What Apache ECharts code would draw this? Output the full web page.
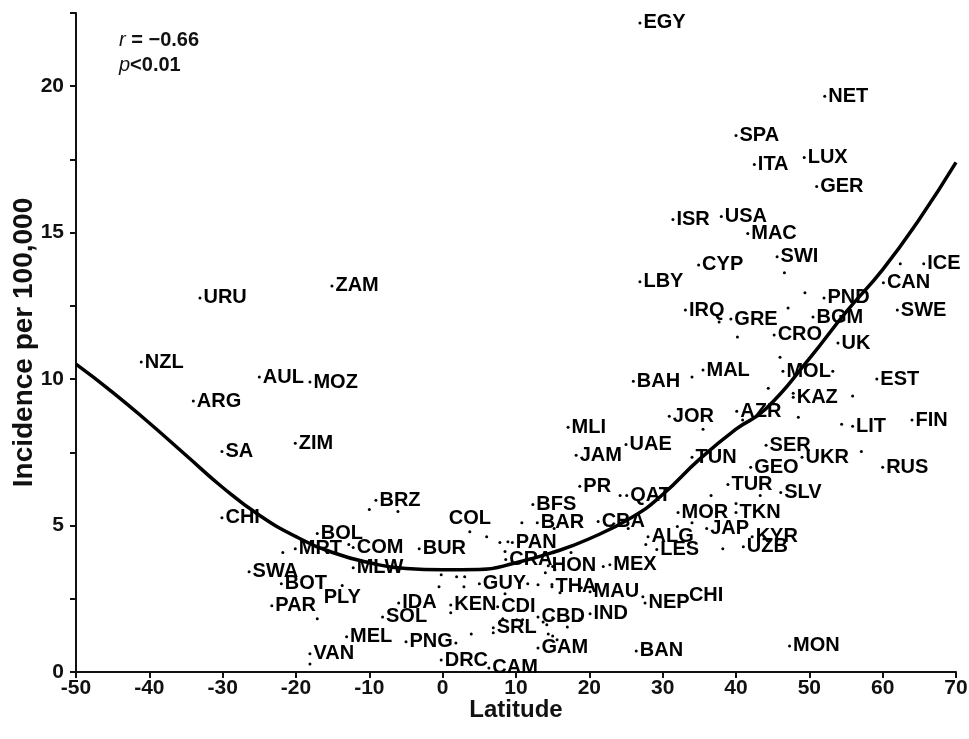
<!DOCTYPE html>
<html>
<head>
<meta charset="utf-8">
<style>html,body{margin:0;padding:0;background:#fff;}#c{width:969px;height:739px;}</style>
<script src="https://cdn.jsdelivr.net/npm/echarts@6/dist/echarts.min.js"></script>
</head>
<body>
<div id="c"></div>
<script>
// ---- Data ----
const countries = ['EGY','NET','SPA','ITA','LUX','GER','ISR','USA','MAC','SWI','CYP','LBY','IRQ','GRE','CRO','PND','BGM','UK','CAN','SWE','ICE','MOL','EST','KAZ','LIT','FIN','UKR','RUS','SER','GEO','TUR','SLV','TKN','MOR','JAP','KYR','UZB','ALG','LES','CBA','QAT','TUN','UAE','JAM','MLI','JOR','AZR','BAH','MAL','PR','BFS','BAR','COL','PAN','CRA','HON','MEX','THA','GUY','KEN','CDI','CBD','IND','MAU','SRL','DRC','CAM','GAM','BAN','MON','CHI','NEP','URU','ZAM','NZL','AUL','MOZ','ARG','SA','ZIM','CHI','BRZ','BOL','COM','MLW','BUR','MRT','SWA','BOT','PLY','PAR','VAN','MEL','SOL','IDA','PNG'];
const latitude = [26.9,52.1,40.0,42.5,49.3,51.0,31.4,38.0,41.6,45.6,34.9,26.9,33.1,39.3,45.2,52.0,50.5,53.9,60.1,62.0,65.6,46.4,59.2,47.8,55.9,64.0,49.0,60.0,44.1,42.0,38.9,46.1,40.0,32.1,36.0,42.2,41.0,28.0,29.2,21.2,25.1,34.0,25.0,18.2,17.1,30.9,40.1,26.0,35.5,18.7,12.3,12.9,3.7,9.5,8.6,14.4,22.8,14.9,5.0,1.1,7.5,13.0,20.1,20.1,6.9,-0.2,6.3,13.0,26.4,47.3,33.1,27.6,-33.1,-15.1,-41.1,-25.0,-18.1,-34.0,-30.1,-20.1,-30.1,-9.1,-17.1,-12.2,-12.2,-3.2,-20.1,-26.4,-22.0,-13.7,-23.3,-18.1,-13.1,-8.2,-6.0,-5.0];
const incidence = [22.16,19.66,18.32,17.33,17.57,16.58,15.45,15.55,14.97,14.18,13.9,13.32,12.36,12.05,11.51,12.77,12.12,11.23,13.29,12.36,13.94,10.27,10.0,9.38,8.39,8.6,7.33,6.99,7.74,6.99,6.4,6.13,5.45,5.45,4.9,4.62,4.28,4.62,4.18,5.14,6.03,7.33,7.77,7.4,8.36,8.73,8.9,9.93,10.31,6.34,5.72,5.1,4.79,4.42,3.84,3.63,3.66,2.91,3.01,2.29,2.23,1.88,1.99,2.74,1.51,0.41,0.14,0.82,0.72,0.89,2.6,2.36,12.77,13.18,10.58,10.07,9.9,9.25,7.53,7.81,5.27,5.86,4.73,4.25,3.56,4.21,4.21,3.42,3.01,2.95,2.26,0.62,1.2,1.88,2.36,1.03];

// unlabeled countries (dots only)
const otherLatitude = [46.6,37.7,40.2,47.1,49.4,62.4,46.0,53.2,55.9,48.5,54.4,57.1,43.3,36.6,34.0,32.0,38.2,27.7,25.3,35.5,40.9,44.4,34.0,24.2,10.8,15.2,6.0,7.8,8.9,8.5,15.0,15.3,14.0,21.9,11.6,13.0,14.9,18.9,16.0,27.3,1.9,3.0,-0.2,-0.5,2.9,8.5,8.2,10.1,10.9,13.7,14.2,15.0,17.0,17.1,18.7,14.4,15.0,15.6,3.9,1.8,-10.0,-6.1,-17.1,-18.1,-21.8,-12.8,17.5,40.0,47.8,1.1,6.9];
const otherIncidence = [13.63,11.95,11.44,12.43,12.95,13.94,10.75,10.27,9.42,8.7,8.46,7.53,6.03,6.03,5.1,4.97,4.21,4.35,4.9,8.29,8.6,9.69,10.07,6.03,5.1,4.9,4.62,4.42,4.45,4.11,3.6,3.49,3.39,3.6,3.01,2.98,2.99,2.88,2.71,2.57,3.25,3.25,3.32,2.91,2.91,2.67,1.82,1.78,1.78,1.71,1.61,1.85,1.54,1.82,1.82,1.3,1.23,1.1,1.3,0.99,5.55,5.48,1.82,0.27,4.08,4.35,4.08,5.75,9.52,2.02,1.34];

// fitted curve
const fitLatitude  = [-50,-45,-40,-35,-30,-25,-20,-15,-10,-5,0,5,10,15,20,26,30,35,40,44,50,55,60,65,70];
const fitIncidence = [10.51,9.55,8.5,7.4,6.3,5.35,4.62,4.08,3.73,3.53,3.49,3.5,3.73,4.08,4.55,5.31,6.06,7.26,8.29,8.97,10.7,12.29,13.74,15.46,17.4];

const xTicks = [-50,-40,-30,-20,-10,0,10,20,30,40,50,60,70];
const yTickLabels = [0,5,10,15,20];

// ---- label placement tweaks (style only) ----
const labelTweaks = {
  EGY:{offset:[0,8]}, ICE:{offset:[-10,-13]}, QAT:{offset:[-4,-20]},
  COL:{position:'top', offset:[7,2]}, CBD:{offset:[0,-11]}, NEP:{offset:[0,12]},
  CAM:{offset:[-3,-11]}, GAM:{offset:[0,9]}, UZB:{offset:[0,11]}, JOR:{offset:[0,-7]},
  AZR:{offset:[0,-10]}, MRT:{offset:[0,11]}, SWA:{offset:[-2,-6]},
  PLY:{position:'bottom', distance:0, offset:[0,0]}, TKN:{offset:[0,-4]}, THA:{offset:[0,-6]},
  SWI:{offset:[0,-5]}, MAC:{offset:[0,3]}, BFS:{offset:[0,-5]}, PR:{offset:[0,-3]}
};

const FONT = 'Liberation Sans, Arial, Helvetica, sans-serif';
const labelStyle = {show:true, formatter:'{b}', fontFamily:FONT, fontWeight:'bold', fontSize:20, color:'#000',
  textBorderWidth:0, opacity:1};

const labeled = countries.map((n,i)=>{
  const t = labelTweaks[n] || {};
  return {name:n, value:[latitude[i], incidence[i]],
    label:Object.assign({}, labelStyle, {position:t.position||'right', offset:t.offset||[0,0], distance: t.distance!=null?t.distance:2})};
});
const others = otherLatitude.map((x,i)=>[x, otherIncidence[i]]);

const chart = echarts.init(document.getElementById('c'), null, {renderer:'canvas'});
chart.setOption({
  animation:false,
  backgroundColor:'#fff',
  grid:{left:76, right:13, top:13, bottom:67, containLabel:false, outerBoundsMode:'none'},
  xAxis:{
    type:'value', min:-50, max:70, interval:10,
    name:'Latitude', nameLocation:'middle', nameGap:26, nameMoveOverlap:false,
    nameTextStyle:{fontFamily:FONT, fontWeight:'bold', fontSize:24, color:'#111', verticalAlign:'top'},
    axisLine:{onZero:false, lineStyle:{color:'#111', width:2}},
    axisTick:{length:6, lineStyle:{color:'#111', width:2}},
    axisLabel:{fontFamily:FONT, fontWeight:'bold', fontSize:21, color:'#111', margin:6,
      formatter:v=> xTicks.includes(v) ? String(v) : ''},
    splitLine:{show:false}
  },
  yAxis:{
    type:'value', min:0, max:22.5, interval:2.5,
    name:'Incidence per 100,000', nameLocation:'middle', nameGap:38, nameMoveOverlap:false,
    nameTextStyle:{fontFamily:FONT, fontWeight:'bold', fontSize:28, color:'#111'},
    axisLine:{show:true, onZero:false, lineStyle:{color:'#111', width:2}},
    axisTick:{show:true, length:6, lineStyle:{color:'#111', width:2}},
    axisLabel:{fontFamily:FONT, fontWeight:'bold', fontSize:21, color:'#111', margin:12,
      formatter:v=> yTickLabels.includes(v) ? String(v) : ''},
    splitLine:{show:false}
  },
  graphic:[
    {type:'text', left:119, top:30, style:{
      text:'{i|r}{b| = −0.66}', fill:'#111',
      rich:{i:{fontFamily:FONT, fontStyle:'italic', fontSize:20, fill:'#111'},
            b:{fontFamily:FONT, fontWeight:'bold', fontSize:20, fill:'#111'}}}},
    {type:'text', left:119, top:55, style:{
      text:'{i|p}{b|<0.01}', fill:'#111',
      rich:{i:{fontFamily:FONT, fontStyle:'italic', fontSize:20, fill:'#111'},
            b:{fontFamily:FONT, fontWeight:'bold', fontSize:20, fill:'#111'}}}}
  ],
  series:[
    {type:'scatter', data:others, symbol:'circle', symbolSize:3,
     itemStyle:{color:'#000', opacity:1}, silent:true, z:3},
    {type:'scatter', data:labeled, symbol:'circle', symbolSize:3,
     itemStyle:{color:'#000', opacity:1}, silent:true, z:3,
     label:labelStyle,
     labelLayout:{hideOverlap:false}},
    {type:'line', data:fitLatitude.map((x,i)=>[x, fitIncidence[i]]), smooth:0.5,
     symbol:'none', lineStyle:{color:'#000', width:3.5}, z:4, silent:true}
  ]
});
</script>
</body>
</html>
